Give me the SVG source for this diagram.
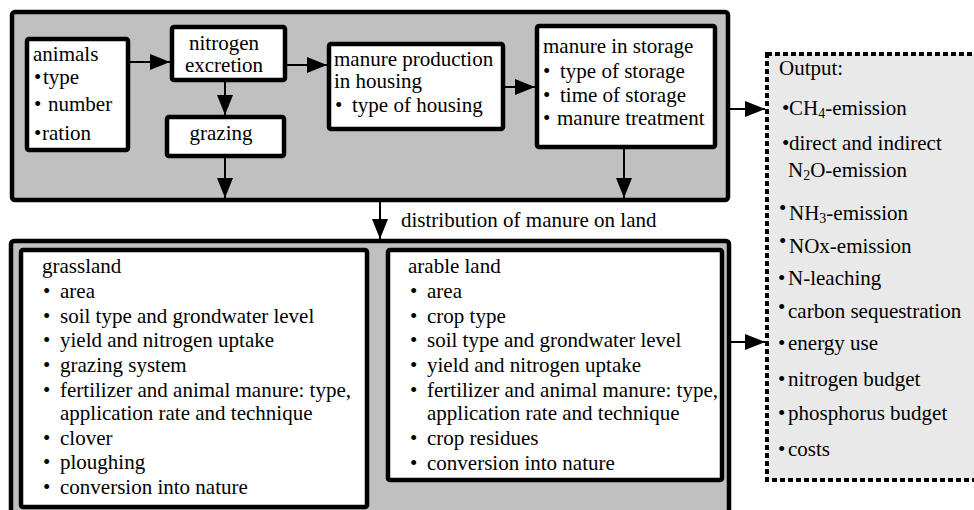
<svg xmlns="http://www.w3.org/2000/svg" width="974" height="510" viewBox="0 0 974 510">
<style>
.panel{fill:#c0c0c0;stroke:#000;stroke-width:4.5}
.box{fill:#fff;stroke:#000;stroke-width:4.5}
.out{fill:#e9e9e9;stroke:#000;stroke-width:4;stroke-dasharray:5 3}
text{font-size:21px;fill:#000}
.c{text-anchor:middle}
.sub{font-size:14px}
.conn path{fill:none;stroke:#000;stroke-width:2}
</style>
<defs>
<marker id="ah" markerUnits="userSpaceOnUse" markerWidth="20" markerHeight="16" refX="20" refY="8" orient="auto">
<path d="M0,0 L20,8 L0,16 z" fill="#000"/>
</marker>
</defs>
<g font-family="'Liberation Serif', 'DejaVu Serif', serif">
<rect id="top-panel" class="panel" x="12" y="12" width="716" height="188" rx="3"/>
<rect id="bottom-panel" class="panel" x="11" y="241" width="718" height="285" rx="3"/>
<g id="animals">
<rect class="box" x="27" y="39" width="101" height="111" rx="2"/>
<text x="33" y="61">animals</text>
<text y="84"><tspan x="34">•</tspan><tspan x="43">type</tspan></text>
<text y="111"><tspan x="34">•</tspan><tspan x="48">number</tspan></text>
<text y="140"><tspan x="34">•</tspan><tspan x="42">ration</tspan></text>
</g>
<g id="nitrogen-excretion">
<rect class="box" x="172" y="27" width="113" height="53" rx="2"/>
<text class="c" x="224" y="50">nitrogen</text>
<text class="c" x="224" y="72">excretion</text>
</g>
<g id="grazing">
<rect class="box" x="167" y="117" width="117" height="39" rx="2"/>
<text class="c" x="221" y="140">grazing</text>
</g>
<g id="manure-production">
<rect class="box" x="329" y="44" width="174" height="85" rx="2"/>
<text x="334" y="66">manure production</text>
<text x="334" y="88">in housing</text>
<text y="112"><tspan x="335">•</tspan><tspan x="352">type of housing</tspan></text>
</g>
<g id="manure-storage">
<rect class="box" x="537" y="26" width="178" height="121" rx="2"/>
<text x="543" y="53">manure in storage</text>
<text y="78"><tspan x="543">•</tspan><tspan x="560">type of storage</tspan></text>
<text y="102"><tspan x="543">•</tspan><tspan x="560">time of storage</tspan></text>
<text y="125"><tspan x="543">•</tspan><tspan x="557">manure treatment</tspan></text>
</g>
<g id="grassland">
<rect class="box" x="21" y="250" width="346" height="257" rx="2"/>
<text x="42" y="273">grassland</text>
<text y="298"><tspan x="43">•</tspan><tspan x="60">area</tspan></text>
<text y="323"><tspan x="43">•</tspan><tspan x="60">soil type and grondwater level</tspan></text>
<text y="347"><tspan x="43">•</tspan><tspan x="60">yield and nitrogen uptake</tspan></text>
<text y="372"><tspan x="43">•</tspan><tspan x="60">grazing system</tspan></text>
<text y="397"><tspan x="43">•</tspan><tspan x="60">fertilizer and animal manure: type,</tspan></text>
<text x="60" y="420">application rate and technique</text>
<text y="445"><tspan x="43">•</tspan><tspan x="60">clover</tspan></text>
<text y="469"><tspan x="43">•</tspan><tspan x="60">ploughing</tspan></text>
<text y="494"><tspan x="43">•</tspan><tspan x="60">conversion into nature</tspan></text>
</g>
<g id="arable-land">
<rect class="box" x="388" y="250" width="334" height="230" rx="2"/>
<text x="408" y="273">arable land</text>
<text y="298"><tspan x="410">•</tspan><tspan x="427">area</tspan></text>
<text y="323"><tspan x="410">•</tspan><tspan x="427">crop type</tspan></text>
<text y="347"><tspan x="410">•</tspan><tspan x="427">soil type and grondwater level</tspan></text>
<text y="372"><tspan x="410">•</tspan><tspan x="427">yield and nitrogen uptake</tspan></text>
<text y="397"><tspan x="410">•</tspan><tspan x="427">fertilizer and animal manure: type,</tspan></text>
<text x="427" y="420">application rate and technique</text>
<text y="445"><tspan x="410">•</tspan><tspan x="427">crop residues</tspan></text>
<text y="470"><tspan x="410">•</tspan><tspan x="427">conversion into nature</tspan></text>
</g>
<g id="output">
<rect class="out" x="767" y="54" width="240" height="426"/>
<text x="779" y="75">Output:</text>
<text y="115"><tspan x="782">•</tspan><tspan x="789">CH</tspan><tspan class="sub" dy="3">4</tspan><tspan dy="-3">-emission</tspan></text>
<text y="150"><tspan x="782">•</tspan><tspan x="789">direct and indirect</tspan></text>
<text y="177"><tspan x="788">N</tspan><tspan class="sub" dy="3">2</tspan><tspan dy="-3">O-emission</tspan></text>
<text y="220"><tspan x="779" dy="-5">•</tspan><tspan x="789" dy="5">NH</tspan><tspan class="sub" dy="3">3</tspan><tspan dy="-3">-emission</tspan></text>
<text y="253"><tspan x="779" dy="-5">•</tspan><tspan x="789" dy="5">NOx-emission</tspan></text>
<text y="285"><tspan x="778">•</tspan><tspan x="788">N-leaching</tspan></text>
<text y="318"><tspan x="778" dy="-4">•</tspan><tspan x="788" dy="4">carbon sequestration</tspan></text>
<text y="350"><tspan x="778">•</tspan><tspan x="788">energy use</tspan></text>
<text y="386"><tspan x="778">•</tspan><tspan x="788">nitrogen budget</tspan></text>
<text y="420"><tspan x="778">•</tspan><tspan x="788">phosphorus budget</tspan></text>
<text y="456"><tspan x="778">•</tspan><tspan x="788">costs</tspan></text>
</g>
<g id="connectors" class="conn">
<path d="M130,62 H170" marker-end="url(#ah)"/>
<path d="M225,82 V115" marker-end="url(#ah)"/>
<path d="M225,158 V198" marker-end="url(#ah)"/>
<path d="M287,65 H327" marker-end="url(#ah)"/>
<path d="M505,87 H535" marker-end="url(#ah)"/>
<path d="M624,149 V198" marker-end="url(#ah)"/>
<path d="M730,109 H765" marker-end="url(#ah)"/>
<path d="M380,202 V239" marker-end="url(#ah)"/>
<path d="M731,342 H765" marker-end="url(#ah)"/>
<text x="401" y="227">distribution of manure on land</text>
</g>
</g>
</svg>
